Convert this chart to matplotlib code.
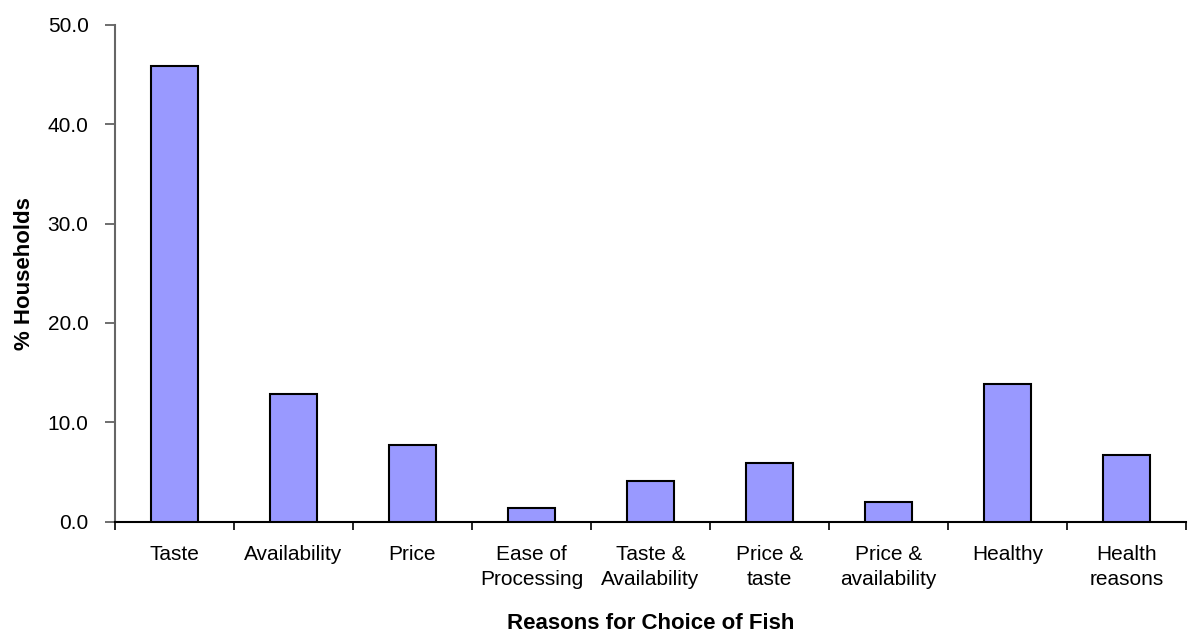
import matplotlib
matplotlib.use("Agg")
import matplotlib.pyplot as plt
import numpy as np

categories = ["Taste", "Availability", "Price", "Ease of\nProcessing",
              "Taste &\nAvailability", "Price &\ntaste", "Price &\navailability",
              "Healthy", "Health\nreasons"]
households_pct = [45.9, 12.8, 7.7, 1.4, 4.1, 5.9, 2.0, 13.8, 6.7]
y_ticks = [0, 10, 20, 30, 40, 50]

plt.rcParams["font.family"] = ["Liberation Sans", "DejaVu Sans"]

fig = plt.figure(figsize=(11.88, 6.32), dpi=100)
ax = fig.add_axes([115 / 1188, 1 - 521.5 / 632, 1071 / 1188, (521.5 - 25) / 632])

x = np.arange(len(categories))
ax.bar(x, households_pct, width=0.4, color="#9999FF", edgecolor="black",
       linewidth=1.5, zorder=3)

ax.set_xlim(-0.5, len(categories) - 0.5)
ax.set_ylim(0, 50)
ax.set_yticks(y_ticks)
ax.set_yticklabels([f"{v:.1f}" for v in y_ticks], fontsize=15)

# category boundaries carry the tick marks, labels sit in the middle
ax.set_xticks(np.arange(len(categories) + 1) - 0.5)
ax.set_xticklabels([])
ax.set_xticks(x, minor=True)
ax.set_xticklabels(categories, minor=True, fontsize=15, linespacing=1.4)
ax.tick_params(axis="x", which="minor", length=0, pad=17)
ax.tick_params(axis="x", which="major", length=6, width=1.2, color="black")
ax.tick_params(axis="y", length=7, width=1.2, color="#555555", pad=12)

for side in ("top", "right"):
    ax.spines[side].set_visible(False)
ax.spines["left"].set_color("#666666")
ax.spines["left"].set_linewidth(1.5)
ax.spines["bottom"].set_color("black")
ax.spines["bottom"].set_linewidth(1.5)

ax.set_xlabel("Reasons for Choice of Fish", fontsize=16, fontweight="bold", labelpad=17)
ax.set_ylabel("% Households", fontsize=16, fontweight="bold", labelpad=9)

fig.savefig("out.png", dpi=100)
